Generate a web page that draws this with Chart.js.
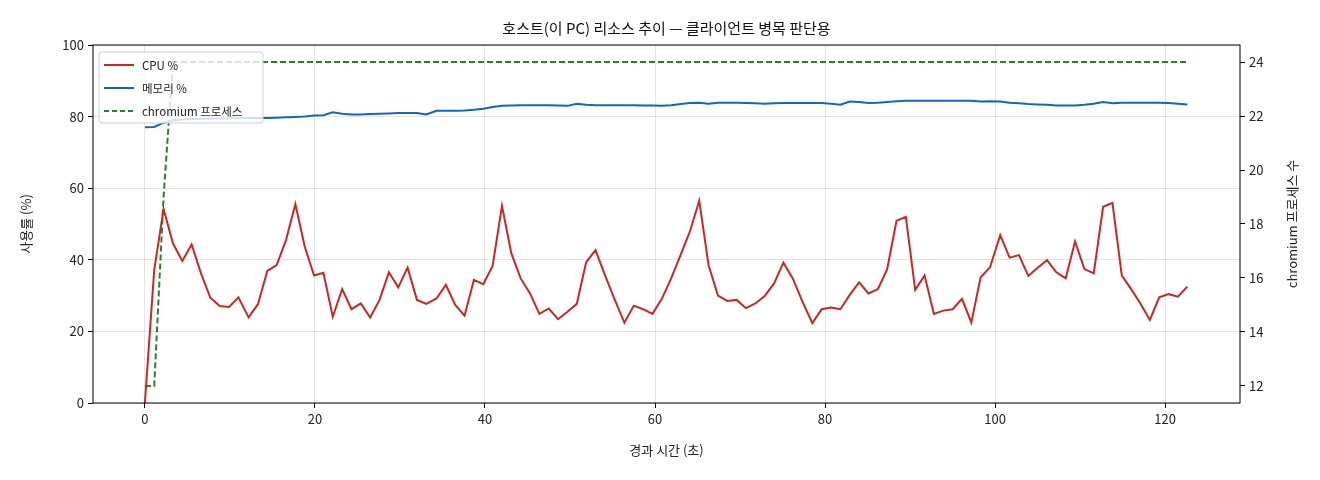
<!DOCTYPE html>
<html>
<head>
<meta charset="utf-8">
<script src="https://cdn.jsdelivr.net/npm/chart.js@4.4.1/dist/chart.umd.min.js"></script>
<style>
  html, body { margin: 0; padding: 0; background: #fff; }
  #wrap { width: 1320px; height: 480px; position: relative; }
</style>
</head>
<body>
<div id="wrap"><canvas id="hostChart"></canvas></div>
<script>
const times = [
  0, 1.1, 2.2, 3.3, 4.4, 5.5, 6.6, 7.7, 8.8, 9.9, 11.0, 12.2, 13.3, 14.4, 15.5, 16.6, 17.7, 18.8, 19.9, 21.0,
  22.1, 23.2, 24.3, 25.4, 26.5, 27.6, 28.7, 29.8, 30.9, 32.0, 33.1, 34.3, 35.4, 36.5, 37.6, 38.7, 39.8, 40.9, 42.0, 43.1,
  44.2, 45.3, 46.4, 47.5, 48.6, 49.7, 50.8, 51.9, 53.0, 54.1, 55.2, 56.4, 57.5, 58.6, 59.7, 60.8, 61.9, 63.0, 64.1, 65.2,
  66.3, 67.4, 68.5, 69.6, 70.7, 71.8, 72.9, 74.0, 75.1, 76.2, 77.3, 78.5, 79.6, 80.7, 81.8, 82.9, 84.0, 85.1, 86.2, 87.3,
  88.4, 89.5, 90.6, 91.7, 92.8, 93.9, 95.0, 96.1, 97.2, 98.3, 99.4, 100.6, 101.7, 102.8, 103.9, 105.0, 106.1, 107.2, 108.3, 109.4,
  110.5, 111.6, 112.7, 113.8, 114.9, 116.0, 117.1, 118.2, 119.3, 120.4, 121.5, 122.6
];

const cpuPct = [
  0, 37.1, 54.2, 44.6, 39.7, 44.3, 36.2, 29.4, 27.1, 26.8, 29.5, 23.9, 27.6, 36.9, 38.5, 45.5, 55.6, 43.7, 35.6, 36.4,
  24.1, 31.8, 26.2, 27.8, 23.9, 28.8, 36.5, 32.3, 37.8, 28.8, 27.7, 29.2, 33.0, 27.4, 24.4, 34.4, 33.2, 38.3, 55.1, 41.8,
  34.8, 30.6, 24.9, 26.4, 23.4, 25.5, 27.7, 39.3, 42.7, 35.8, 29.2, 22.4, 27.2, 26.2, 24.9, 29.1, 34.8, 41.3, 47.9, 56.5,
  38.5, 30.0, 28.5, 28.8, 26.5, 27.8, 29.9, 33.4, 39.2, 34.8, 28.5, 22.3, 26.2, 26.7, 26.2, 30.2, 33.7, 30.6, 31.8, 37.3,
  50.9, 52.0, 31.6, 35.6, 24.9, 25.8, 26.2, 29.1, 22.5, 35.1, 37.9, 46.9, 40.6, 41.3, 35.5, 37.8, 39.9, 36.5, 34.8, 45.1,
  37.4, 36.2, 54.8, 55.9, 35.6, 31.8, 27.7, 23.2, 29.5, 30.4, 29.7, 32.5
];

const memPct = [
  77.0, 77.1, 78.3, 79.0, 79.2, 79.3, 79.4, 79.5, 79.5, 79.5, 79.6, 79.6, 79.6, 79.6, 79.7, 79.8, 79.9, 80.0, 80.3, 80.4,
  81.2, 80.8, 80.6, 80.6, 80.7, 80.8, 80.9, 81.0, 81.0, 81.0, 80.6, 81.6, 81.6, 81.6, 81.7, 81.9, 82.2, 82.7, 83.0, 83.1,
  83.2, 83.2, 83.2, 83.2, 83.1, 83.0, 83.6, 83.3, 83.2, 83.2, 83.2, 83.2, 83.2, 83.1, 83.1, 83.0, 83.2, 83.5, 83.8, 83.9,
  83.6, 83.9, 83.9, 83.9, 83.8, 83.7, 83.6, 83.7, 83.8, 83.8, 83.8, 83.8, 83.8, 83.6, 83.3, 84.2, 84.1, 83.8, 83.9, 84.1,
  84.3, 84.4, 84.4, 84.4, 84.4, 84.4, 84.4, 84.4, 84.4, 84.2, 84.3, 84.2, 83.9, 83.7, 83.5, 83.4, 83.3, 83.1, 83.1, 83.1,
  83.3, 83.6, 84.1, 83.7, 83.9, 83.9, 83.9, 83.9, 83.9, 83.8, 83.6, 83.4
];

const chromiumProcs = [
  12, 12, 19, 24, 24, 24, 24, 24, 24, 24, 24, 24, 24, 24, 24, 24, 24, 24, 24, 24,
  24, 24, 24, 24, 24, 24, 24, 24, 24, 24, 24, 24, 24, 24, 24, 24, 24, 24, 24, 24,
  24, 24, 24, 24, 24, 24, 24, 24, 24, 24, 24, 24, 24, 24, 24, 24, 24, 24, 24, 24,
  24, 24, 24, 24, 24, 24, 24, 24, 24, 24, 24, 24, 24, 24, 24, 24, 24, 24, 24, 24,
  24, 24, 24, 24, 24, 24, 24, 24, 24, 24, 24, 24, 24, 24, 24, 24, 24, 24, 24, 24,
  24, 24, 24, 24, 24, 24, 24, 24, 24, 24, 24, 24
];

const xTicks = [0, 20, 40, 60, 80, 100, 120];
const leftTicks = [0, 20, 40, 60, 80, 100];
const rightTicks = [12, 14, 16, 18, 20, 22, 24];

const FONT = "'Noto Sans CJK KR', 'DejaVu Sans', sans-serif";
const RED = '#c62828';
const BLUE = '#1565c0';
const GREEN = '#2e7d32';

function pts(ys) {
    return ys.map((y, i) => ({ x: times[i], y: y }));
}

// frame + title + legend + right axis title, drawn like matplotlib
const framePlugin = {
    id: 'frame',
    afterDraw(chart) {
        const { ctx, chartArea: a } = chart;
        ctx.save();
        ctx.strokeStyle = '#000';
        ctx.lineWidth = 1;
        ctx.strokeRect(a.left, a.top, a.right - a.left, a.bottom - a.top);

        ctx.fillStyle = '#111';
        ctx.font = '15px ' + FONT;
        ctx.textAlign = 'center';
        ctx.textBaseline = 'middle';
        ctx.fillText('호스트(이 PC) 리소스 추이 — 클라이언트 병목 판단용', (a.left + a.right) / 2, 28);

        // right axis title, reading bottom to top
        ctx.save();
        ctx.translate(1292, (a.top + a.bottom) / 2);
        ctx.rotate(-Math.PI / 2);
        ctx.font = '13px ' + FONT;
        ctx.fillStyle = '#222';
        ctx.fillText('chromium 프로세스 수', 0, 0);
        ctx.restore();

        // legend
        const lx = a.left + 6, ly = a.top + 7, lw = 164, lh = 71;
        ctx.fillStyle = 'rgba(255,255,255,0.8)';
        ctx.strokeStyle = '#d0d0d0';
        ctx.beginPath();
        ctx.roundRect(lx, ly, lw, lh, 3);
        ctx.fill();
        ctx.stroke();
        const items = [
            ['CPU %', RED, []],
            ['메모리 %', BLUE, []],
            ['chromium 프로세스', GREEN, [5, 3]]
        ];
        ctx.font = '11.5px ' + FONT;
        ctx.textAlign = 'left';
        items.forEach((it, i) => {
            const y = ly + 13 + i * 23;
            ctx.strokeStyle = it[1];
            ctx.lineWidth = 2;
            ctx.setLineDash(it[2]);
            ctx.beginPath();
            ctx.moveTo(lx + 5, y);
            ctx.lineTo(lx + 35, y);
            ctx.stroke();
            ctx.setLineDash([]);
            ctx.fillStyle = '#222';
            ctx.fillText(it[0], lx + 43, y + 1);
        });
        ctx.restore();
    }
};

const ctx = document.getElementById('hostChart');
new Chart(ctx.getContext('2d'), {
    type: 'line',
    data: {
        datasets: [
            { label: 'CPU %', data: pts(cpuPct), borderColor: RED, borderWidth: 2, yAxisID: 'y', pointRadius: 0, tension: 0 },
            { label: '메모리 %', data: pts(memPct), borderColor: BLUE, borderWidth: 2, yAxisID: 'y', pointRadius: 0, tension: 0 },
            { label: 'chromium 프로세스', data: pts(chromiumProcs), borderColor: GREEN, borderWidth: 2, borderDash: [6, 3], yAxisID: 'y1', pointRadius: 0, tension: 0 }
        ]
    },
    options: {
        responsive: true,
        maintainAspectRatio: false,
        animation: false,
        layout: { padding: { top: 45, left: 14, right: 0, bottom: 18 } },
        plugins: { legend: { display: false }, tooltip: { enabled: false } },
        scales: {
            x: {
                type: 'linear',
                min: -6.1,
                max: 128.8,
                afterBuildTicks: s => { s.ticks = xTicks.map(v => ({ value: v })); },
                afterFit: s => { s.height = 59; },
                grid: { color: 'rgba(0,0,0,0.1)', tickColor: '#000', tickLength: 5, drawOnChartArea: true },
                border: { display: false },
                ticks: { color: '#222', font: { family: FONT, size: 13 }, padding: 3 },
                title: { display: true, text: '경과 시간 (초)', color: '#222', font: { family: FONT, size: 13 }, padding: { top: 8 } }
            },
            y: {
                position: 'left',
                min: 0,
                max: 100,
                afterBuildTicks: s => { s.ticks = leftTicks.map(v => ({ value: v })); },
                afterFit: s => { s.width = 79; },
                grid: { color: 'rgba(0,0,0,0.1)', tickColor: '#000', tickLength: 5 },
                border: { display: false },
                ticks: { color: '#222', font: { family: FONT, size: 13 }, padding: 4 },
                title: { display: true, text: '사용률 (%)', color: '#222', font: { family: FONT, size: 13 } }
            },
            y1: {
                position: 'right',
                min: 11.37,
                max: 24.63,
                afterBuildTicks: s => { s.ticks = rightTicks.map(v => ({ value: v })); },
                afterFit: s => { s.width = 80; },
                grid: { drawOnChartArea: false, tickColor: '#000', tickLength: 5 },
                border: { display: false },
                ticks: { color: '#222', font: { family: FONT, size: 13 }, padding: 4 },
                title: { display: false }
            }
        }
    },
    plugins: [framePlugin]
});
</script>
</body>
</html>
